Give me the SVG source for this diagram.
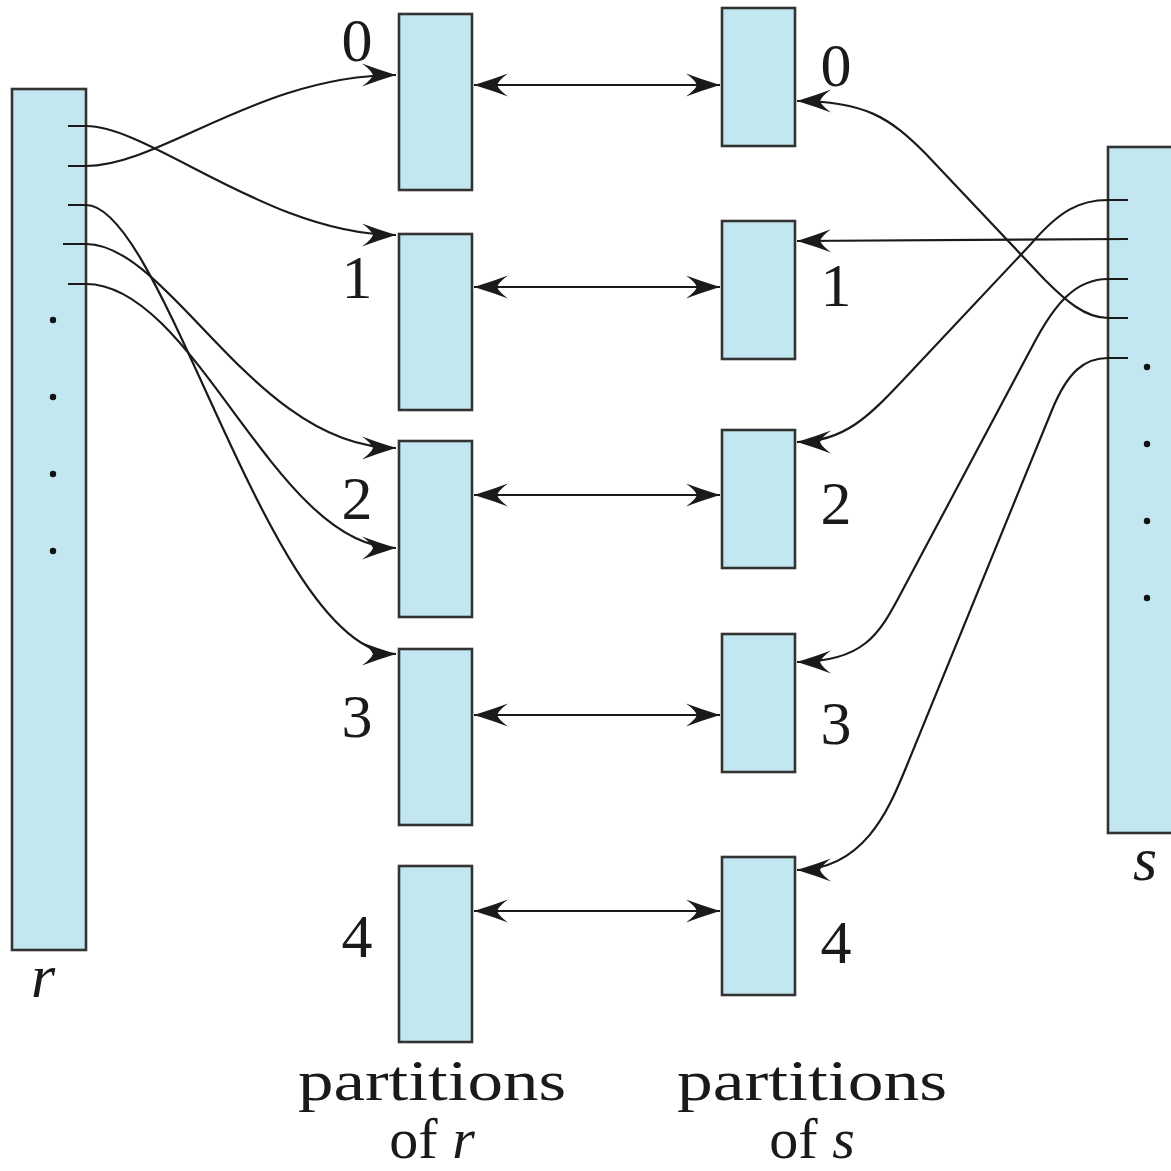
<svg xmlns="http://www.w3.org/2000/svg" width="1171" height="1171" viewBox="0 0 1171 1171">
<style>
.box{fill:#c2e7f1;stroke:#333;stroke-width:2.6}
.dot{fill:#111}
.con{fill:none;stroke:#1a1a1a;stroke-width:2.2}
.arr{marker-end:url(#ah)}
.bi{marker-start:url(#ah);marker-end:url(#ah)}
.num{font-family:"Liberation Serif","Times New Roman",serif;font-size:62px;fill:#1a1a1a;text-anchor:middle}
.lbl{font-family:"Liberation Serif","Times New Roman",serif;font-size:62px;fill:#1a1a1a;text-anchor:middle}
.cap{font-family:"Liberation Serif","Times New Roman",serif;font-size:58px;fill:#1a1a1a;text-anchor:middle}
.it{font-style:italic}
</style>
<defs>
<marker id="ah" viewBox="0 0 34 24" refX="34" refY="12" markerWidth="34" markerHeight="24" markerUnits="userSpaceOnUse" orient="auto-start-reverse">
<path d="M34,12 Q16,6.5 0,0.5 Q9,7 11,12 Q9,17 0,23.5 Q16,17.5 34,12 Z" fill="#1a1a1a"/>
</marker>
</defs>
<rect width="1171" height="1171" fill="#fff"/>

<g id="rel-r">
<rect class="box" x="12" y="89" width="74" height="861"/>
<circle class="dot" cx="53" cy="320" r="3.2"/>
<circle class="dot" cx="53" cy="397" r="3.2"/>
<circle class="dot" cx="53" cy="474" r="3.2"/>
<circle class="dot" cx="53" cy="551" r="3.2"/>
<text class="lbl it" x="43" y="997">r</text>
</g>

<g id="rel-s">
<rect class="box" x="1108" y="147" width="90" height="686"/>
<circle class="dot" cx="1147" cy="367" r="3.2"/>
<circle class="dot" cx="1147" cy="444" r="3.2"/>
<circle class="dot" cx="1147" cy="521" r="3.2"/>
<circle class="dot" cx="1147" cy="598" r="3.2"/>
<text class="lbl it" x="1145" y="880">s</text>
</g>

<g id="r0"><rect class="box" x="399" y="14" width="73" height="176"/><text class="num" x="357" y="61">0</text></g>
<g id="r1"><rect class="box" x="399" y="234" width="73" height="176"/><text class="num" x="357" y="298">1</text></g>
<g id="r2"><rect class="box" x="399" y="441" width="73" height="176"/><text class="num" x="357" y="519">2</text></g>
<g id="r3"><rect class="box" x="399" y="649" width="73" height="176"/><text class="num" x="357" y="737">3</text></g>
<g id="r4"><rect class="box" x="399" y="866" width="73" height="176"/><text class="num" x="357" y="957">4</text></g>

<g id="s0"><rect class="box" x="722" y="8" width="73" height="138"/><text class="num" x="836" y="86">0</text></g>
<g id="s1"><rect class="box" x="722" y="221" width="73" height="138"/><text class="num" x="836" y="306">1</text></g>
<g id="s2"><rect class="box" x="722" y="430" width="73" height="138"/><text class="num" x="836" y="524">2</text></g>
<g id="s3"><rect class="box" x="722" y="634" width="73" height="138"/><text class="num" x="836" y="744">3</text></g>
<g id="s4"><rect class="box" x="722" y="857" width="73" height="138"/><text class="num" x="836" y="963">4</text></g>

<g id="label-r">
<text class="cap" x="432" y="1100" textLength="268" lengthAdjust="spacingAndGlyphs">partitions</text>
<text class="cap" x="432" y="1158">of <tspan class="it">r</tspan></text>
</g>
<g id="label-s">
<text class="cap" x="812" y="1100" textLength="270" lengthAdjust="spacingAndGlyphs">partitions</text>
<text class="cap" x="812" y="1158">of <tspan class="it">s</tspan></text>
</g>

<g id="connectors">
<path class="con arr" d="M68,126 H86 C150,126 270,235 396,235"/>
<path class="con arr" d="M68,166 H86 C160,166 260,75 396,75"/>
<path class="con arr" d="M68,205 H86 C165,205 270,654 396,654"/>
<path class="con arr" d="M63,244 H86 C170,244 255,448 396,448"/>
<path class="con arr" d="M68,284 H86 C195,284 275,548 396,548"/>

<path class="con arr" d="M1128,200 H1108 C1080,200 1060,210 1030,245 L905,378 C870,415 845,442 797,442"/>
<path class="con arr" d="M1128,239 L797,241"/>
<path class="con arr" d="M1128,279 H1108 C1076,279 1055,303 1033,345 L900,595 C880,632 865,662 797,662"/>
<path class="con arr" d="M1128,318 H1108 C1085,318 1065,300 1045,280 L925,153 C890,118 865,101 797,101"/>
<path class="con arr" d="M1128,358 H1108 C1085,358 1068,371 1052,410 L905,770 C890,806 865,870 797,870"/>

<path class="con bi" d="M474,85 H720"/>
<path class="con bi" d="M474,287 H720"/>
<path class="con bi" d="M474,495 H720"/>
<path class="con bi" d="M474,715 H720"/>
<path class="con bi" d="M474,911 H720"/>
</g>
</svg>
